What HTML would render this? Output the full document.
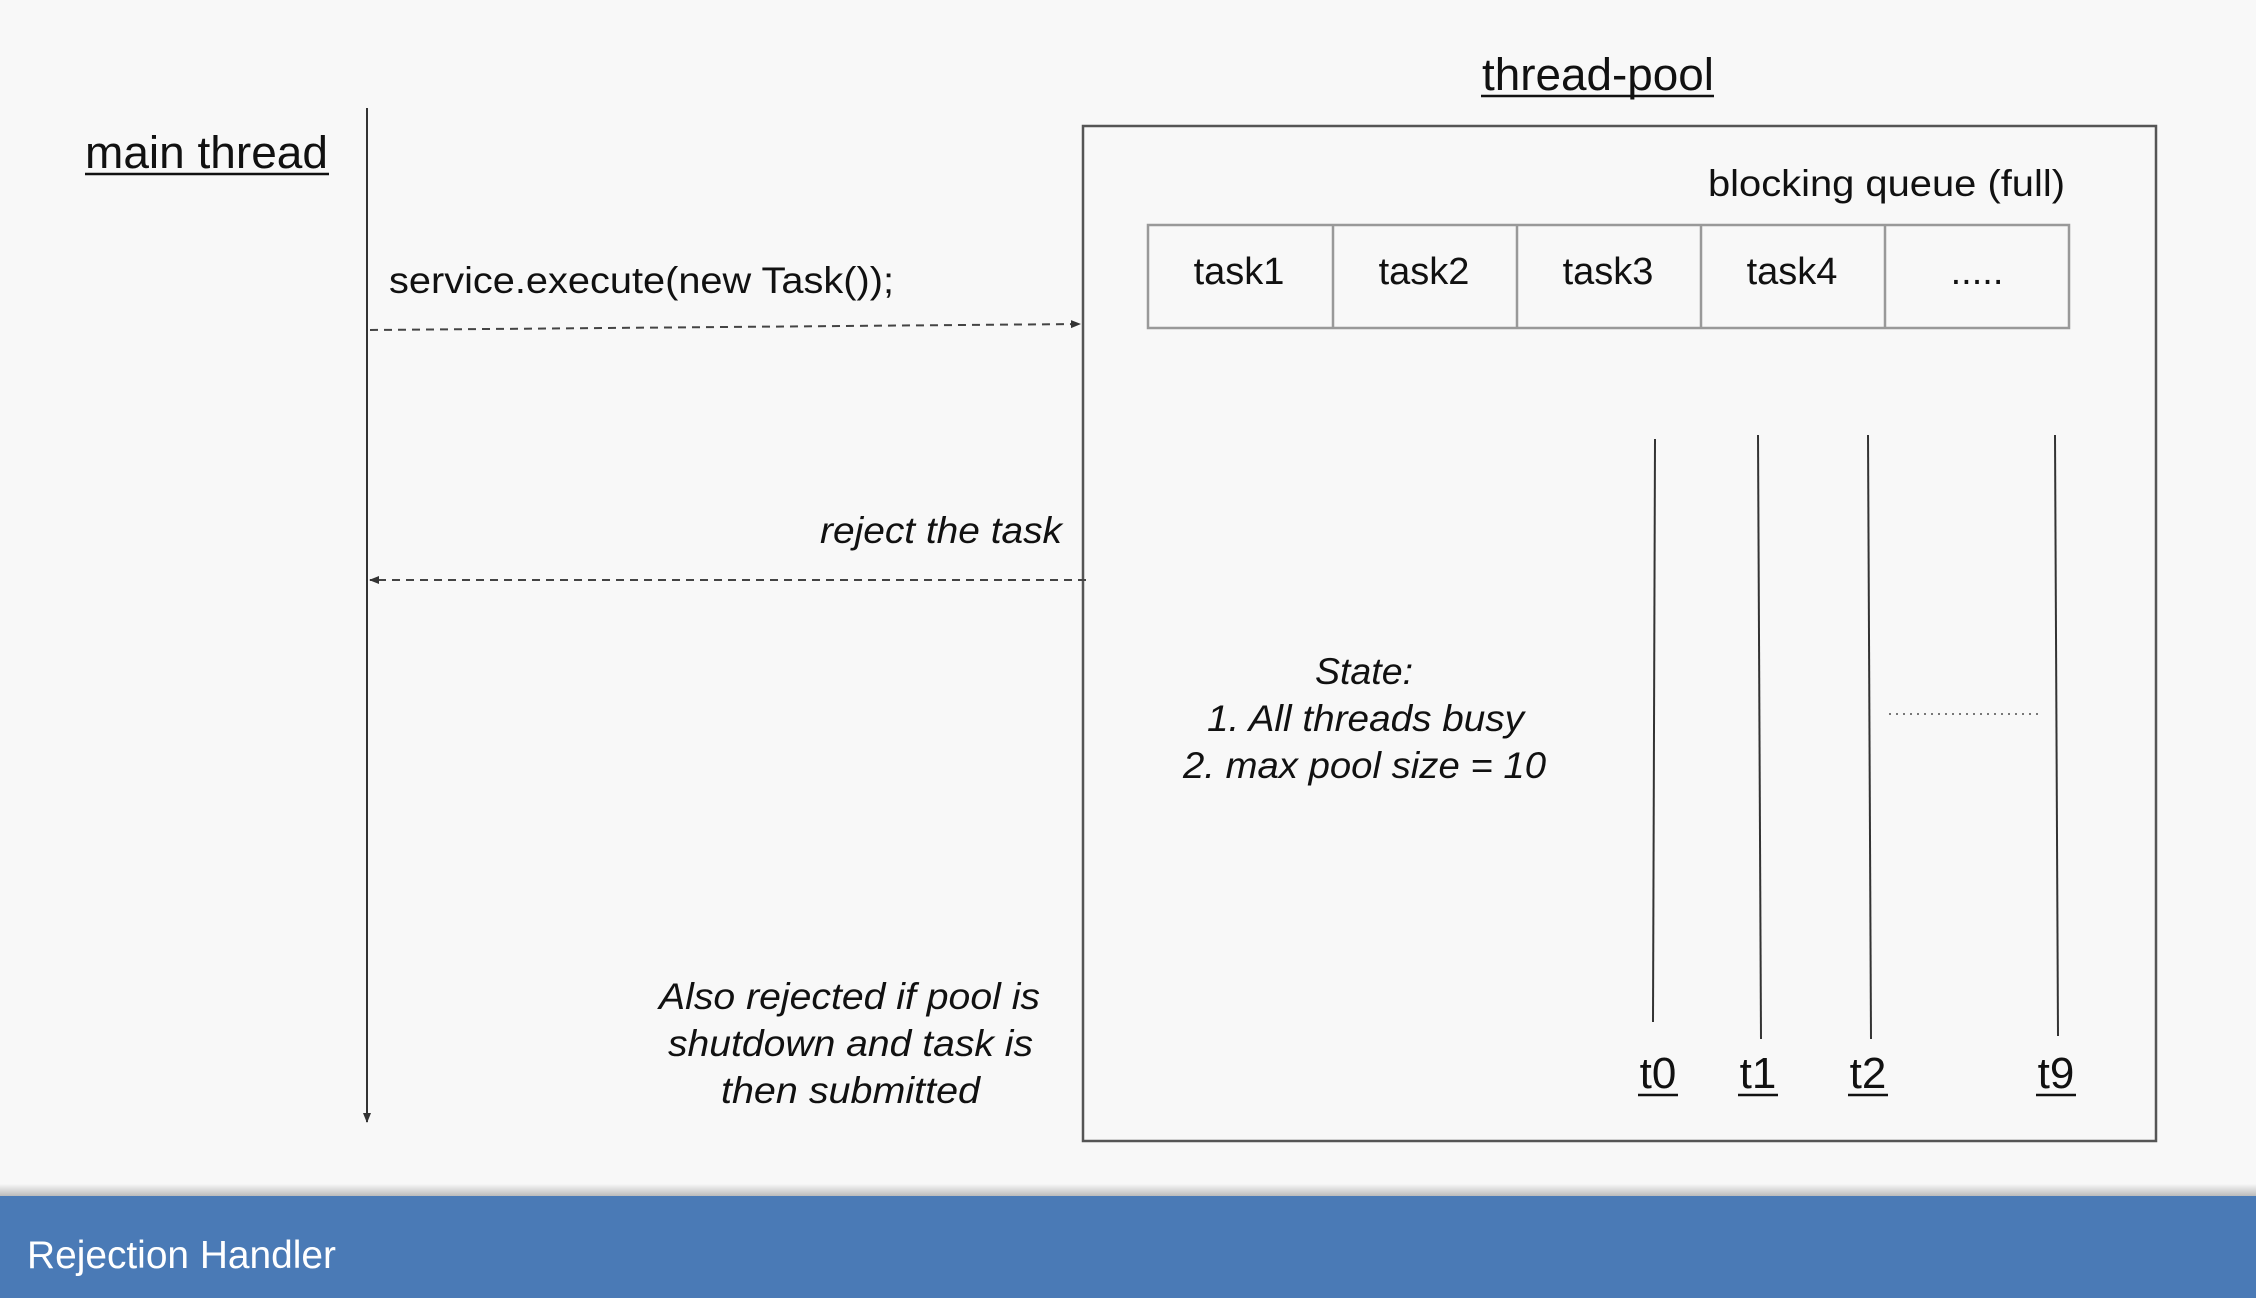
<!DOCTYPE html>
<html><head><meta charset="utf-8"><style>
html,body{margin:0;padding:0;background:#f8f8f8;}
svg{display:block;}
text{font-family:"Liberation Sans",sans-serif;fill:#111;}
.i{font-style:italic;}
</style></head><body>
<svg width="2256" height="1298" viewBox="0 0 2256 1298" xmlns="http://www.w3.org/2000/svg">
<defs>
<marker id="ah" markerWidth="10" markerHeight="10" refX="9" refY="5" orient="auto" markerUnits="userSpaceOnUse">
<path d="M0,1 L10,5 L0,9 z" fill="#333"/></marker>
<linearGradient id="sh" x1="0" y1="0" x2="0" y2="1"><stop offset="0" stop-color="#f8f8f8"/><stop offset="1" stop-color="#bbb"/></linearGradient>
</defs>
<rect width="2256" height="1298" fill="#f8f8f8"/>
<text x="85" y="168" font-size="45" textLength="243" lengthAdjust="spacingAndGlyphs">main thread</text>
<line x1="85" y1="174" x2="329" y2="174" stroke="#111" stroke-width="2.5"/>
<line x1="367" y1="108" x2="367" y2="1122" stroke="#333" stroke-width="2" marker-end="url(#ah)"/>
<text x="1482" y="90" font-size="45" textLength="232" lengthAdjust="spacingAndGlyphs">thread-pool</text>
<line x1="1481" y1="96" x2="1714" y2="96" stroke="#111" stroke-width="2.5"/>
<rect x="1083" y="126" width="1073" height="1015" fill="none" stroke="#555" stroke-width="2.5"/>
<text x="1708" y="196" font-size="37" textLength="357" lengthAdjust="spacingAndGlyphs">blocking queue (full)</text>
<rect x="1148" y="225" width="921" height="103" fill="none" stroke="#999" stroke-width="2.5"/>
<g stroke="#999" stroke-width="2.5">
<line x1="1333" y1="225" x2="1333" y2="328"/><line x1="1517" y1="225" x2="1517" y2="328"/>
<line x1="1701" y1="225" x2="1701" y2="328"/><line x1="1885" y1="225" x2="1885" y2="328"/></g>
<g font-size="38" text-anchor="middle">
<text x="1239" y="284">task1</text><text x="1424" y="284">task2</text><text x="1608" y="284">task3</text>
<text x="1792" y="284">task4</text><text x="1977" y="284">.....</text></g>
<text x="389" y="293" font-size="37" textLength="505" lengthAdjust="spacingAndGlyphs">service.execute(new Task());</text>
<line x1="370" y1="330" x2="1080" y2="324" stroke="#444" stroke-width="2" stroke-dasharray="8,6" marker-end="url(#ah)"/>
<text class="i" x="820" y="543" font-size="37" textLength="242" lengthAdjust="spacingAndGlyphs">reject the task</text>
<line x1="1086" y1="580" x2="370" y2="580" stroke="#444" stroke-width="2" stroke-dasharray="8,6" marker-end="url(#ah)"/>
<g font-size="37">
<text class="i" x="1315" y="684" textLength="98" lengthAdjust="spacingAndGlyphs">State:</text>
<text class="i" x="1207" y="731" textLength="317" lengthAdjust="spacingAndGlyphs">1. All threads busy</text>
<text class="i" x="1183" y="778" textLength="363" lengthAdjust="spacingAndGlyphs">2. max pool size = 10</text>
<text class="i" x="659" y="1009" textLength="381" lengthAdjust="spacingAndGlyphs">Also rejected if pool is</text>
<text class="i" x="668" y="1056" textLength="365" lengthAdjust="spacingAndGlyphs">shutdown and task is</text>
<text class="i" x="721" y="1103" textLength="259" lengthAdjust="spacingAndGlyphs">then submitted</text></g>
<g stroke="#333" stroke-width="2">
<line x1="1655" y1="439" x2="1653" y2="1022"/>
<line x1="1758" y1="435" x2="1761" y2="1039"/>
<line x1="1868" y1="435" x2="1871" y2="1039"/>
<line x1="2055" y1="435" x2="2058" y2="1036"/></g>
<line x1="1889" y1="714" x2="2040" y2="714" stroke="#777" stroke-width="2" stroke-dasharray="2,5"/>
<g font-size="44" text-anchor="middle">
<text x="1658" y="1088">t0</text><text x="1758" y="1088">t1</text><text x="1868" y="1088">t2</text><text x="2056" y="1088">t9</text></g>
<g stroke="#111" stroke-width="2.5">
<line x1="1638" y1="1095" x2="1678" y2="1095"/><line x1="1738" y1="1095" x2="1778" y2="1095"/>
<line x1="1848" y1="1095" x2="1888" y2="1095"/><line x1="2036" y1="1095" x2="2076" y2="1095"/></g>
<rect x="0" y="1184" width="2256" height="12" fill="url(#sh)"/>
<rect x="0" y="1196" width="2256" height="102" fill="#4a7ab6"/>
<text x="27" y="1268" font-size="39" textLength="309" lengthAdjust="spacingAndGlyphs" style="fill:#fff">Rejection Handler</text>
</svg>
</body></html>
